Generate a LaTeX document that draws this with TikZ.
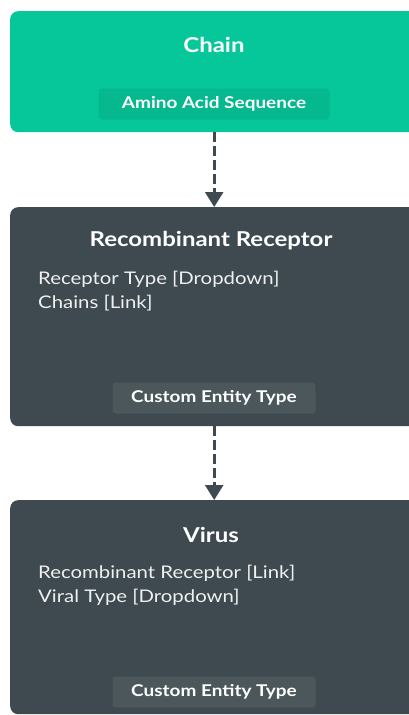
\documentclass[tikz,border=0pt]{standalone}
\usepackage{fontspec}
\setmainfont{Lato}[FakeStretch=1.17]
\usetikzlibrary{arrows.meta}
\definecolor{chaingreen}{HTML}{06C79A}
\definecolor{chaintag}{HTML}{05B88E}
\definecolor{slate}{HTML}{3E4A4F}
\definecolor{slatetag}{HTML}{4B575B}
\tikzset{
  entity/.style={rounded corners=8pt, minimum width=408pt, anchor=north west, inner sep=0pt},
  title/.style={text=white, font=\bfseries\fontsize{20.5}{24}\selectfont, inner sep=0pt},
  field/.style={text=white!92!slate, font=\fontsize{17.4}{24.5}\selectfont, align=left, anchor=north west, inner sep=0pt},
  tag/.style={text=white, font=\bfseries\fontsize{16.2}{19}\selectfont, rounded corners=3pt, inner sep=0pt, minimum height=31pt},
  link/.style={draw=slate, line width=2.6pt, dash pattern=on 10pt off 4pt, -{Triangle[length=15pt,width=18pt]}}
}
\begin{document}
\begin{tikzpicture}[x=1pt,y=-1pt]
\useasboundingbox (0,0) rectangle (409,715);
% Chain entity
\node[entity, fill=chaingreen, minimum height=121pt] (chain) at (10,11) {};
\node[title] (chaint) at (214,45) {Chain};
\node[tag, fill=chaintag, minimum width=231pt] (chaintg) at (214,104) {Amino Acid Sequence};
% Recombinant Receptor entity
\node[entity, fill=slate, minimum height=219pt] (rr) at (10,207) {};
\node[title] (rrt) at (211,241) {Recombinant Receptor};
\node[field] (rrf) at (38,270.5) {Receptor Type [Dropdown]\\Chains [Link]};
\node[tag, fill=slatetag, minimum width=203pt] (rrtg) at (214,398) {Custom Entity Type};
% Virus entity
\node[entity, fill=slate, minimum height=214pt] (virus) at (10,500) {};
\node[title] (virust) at (211,535) {Virus};
\node[field] (virusf) at (38,564.5) {Recombinant Receptor [Link]\\Viral Type [Dropdown]};
\node[tag, fill=slatetag, minimum width=203pt] (virustg) at (214,692) {Custom Entity Type};
% Links between entities
\draw[link] (chain.south) -- (rr.north);
\draw[link] (rr.south) -- (virus.north);
\end{tikzpicture}
\end{document}
